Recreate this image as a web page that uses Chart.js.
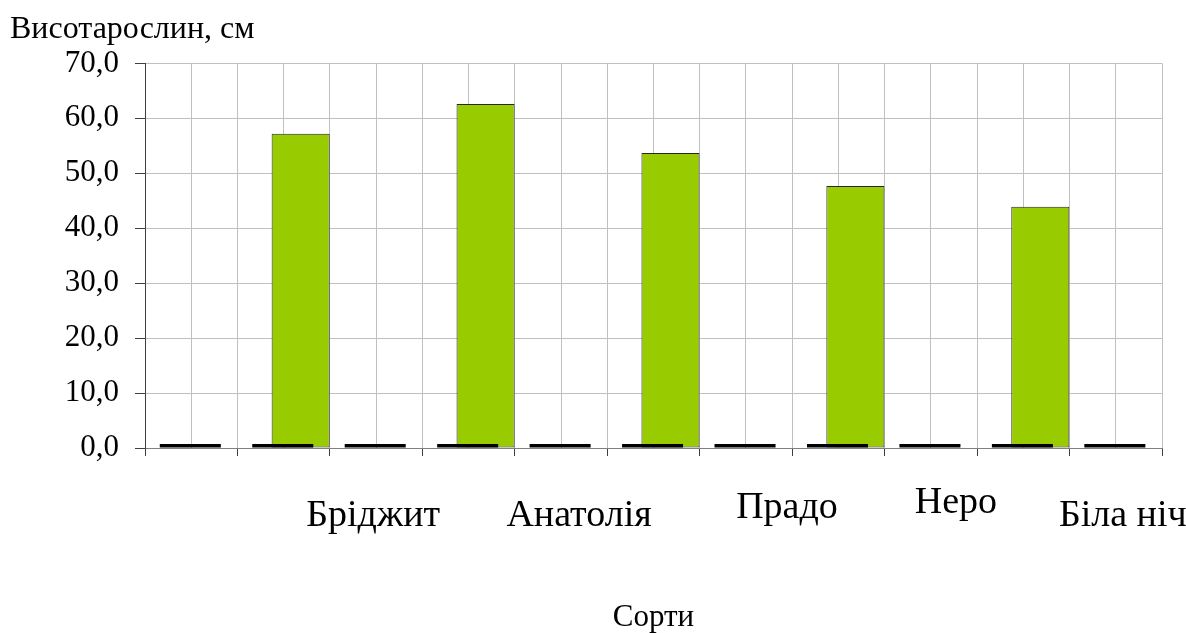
<!DOCTYPE html>
<html>
<head>
<meta charset="utf-8">
<script src="https://cdn.jsdelivr.net/npm/chart.js@4/dist/chart.umd.min.js"></script>
<style>
  body { margin: 0; background: #fff; }
  #wrap { width: 1186px; height: 633px; }
</style>
</head>
<body>
<div id="wrap"><canvas id="heightChart"></canvas></div>
<script>
// Plant height by variety
const categories = ['', '', 'Бріджит', '', 'Анатолія', '', 'Прадо', '', 'Неро', '', 'Біла ніч'];
const baseValues = [0, 0, 0, 0, 0, 0, 0, 0, 0, 0, 0];
const heightValues = [null, 57.2, null, 62.6, null, 53.7, null, 47.7, null, 43.9, null];
const yTicks = { min: 0, max: 70, step: 10 };

// the category labels sit a bit off their slots, as in the original
const labelShiftX = [0, 0, -3, 0, 18, 0, 41, 0, 25, 0, 7];
const labelShiftY = [0, 0, 0, 0, 0, 0, -8, 0, -13, 0, 0];

const serif = 'Liberation Serif, Times New Roman, serif';
const gridGray = '#c0c0c0';
const tickDark = '#404040';

const categoryLabels = {
  id: 'categoryLabels',
  afterDraw(chart) {
    const ctx = chart.ctx;
    const xScale = chart.scales.x;
    const baseY = chart.chartArea.bottom + 78;
    ctx.save();
    ctx.font = '38px ' + serif;
    ctx.fillStyle = '#000';
    ctx.textAlign = 'center';
    ctx.textBaseline = 'alphabetic';
    categories.forEach((label, i) => {
      if (!label) return;
      ctx.fillText(label, xScale.getPixelForValue(i) + labelShiftX[i], baseY + labelShiftY[i]);
    });
    ctx.restore();
  },
};

new Chart(document.getElementById('heightChart'), {
  type: 'bar',
  data: {
    labels: categories,
    datasets: [
      {
        // zero series, shows as a short dash on the axis
        data: baseValues,
        backgroundColor: '#000000',
        borderWidth: 0,
        minBarLength: 4,
        categoryPercentage: 0.04,
        barPercentage: 33,
      },
      {
        data: heightValues,
        backgroundColor: '#99cc00',
        borderColor: '#262626',
        borderWidth: 1,
        borderSkipped: false,
        categoryPercentage: 0.735,
        barPercentage: 1.71,
      },
    ],
  },
  options: {
    responsive: true,
    maintainAspectRatio: false,
    animation: false,
    layout: { padding: { left: 10, right: 24, top: 0, bottom: 0 } },
    plugins: {
      legend: { display: false },
      tooltip: { enabled: false },
      title: {
        display: true,
        text: 'Висотарослин, см',
        align: 'start',
        color: '#000',
        font: { family: serif, size: 32, weight: 'normal', lineHeight: 1.2 },
        padding: { top: 10, bottom: 15 },
      },
    },
    scales: {
      x: {
        type: 'category',
        position: 'bottom',
        offset: true,
        grid: { offset: true, color: gridGray, tickColor: tickDark, tickLength: 8 },
        border: { color: '#808080' },
        ticks: {
          autoSkip: false,
          maxRotation: 0,
          color: 'rgba(0,0,0,0)',
          font: { family: serif, size: 12 },
        },
        title: {
          display: true,
          text: 'Сорти',
          color: '#000',
          font: { family: serif, size: 31, lineHeight: 1 },
          padding: { top: 0, bottom: 0 },
        },
        afterFit: (scale) => {
          scale.height = 185;
          scale.paddingLeft = 0;
          scale.paddingRight = 0;
        },
      },
      // second axis only for the gridlines through the category middles
      x2: {
        type: 'category',
        position: 'top',
        offset: true,
        grid: { offset: false, color: gridGray, drawTicks: false },
        border: { display: false },
        ticks: { display: false },
        afterFit: (scale) => { scale.height = 0; },
      },
      y: {
        min: yTicks.min,
        max: yTicks.max,
        grid: { color: gridGray, tickColor: tickDark, tickLength: 10 },
        border: { color: tickDark },
        ticks: {
          stepSize: yTicks.step,
          color: '#000',
          padding: 16,
          font: { family: serif, size: 31 },
          callback: (v) => v.toFixed(1).replace('.', ','),
        },
        afterFit: (scale) => { scale.width = 135; },
      },
    },
  },
  plugins: [categoryLabels],
});
</script>
</body>
</html>
